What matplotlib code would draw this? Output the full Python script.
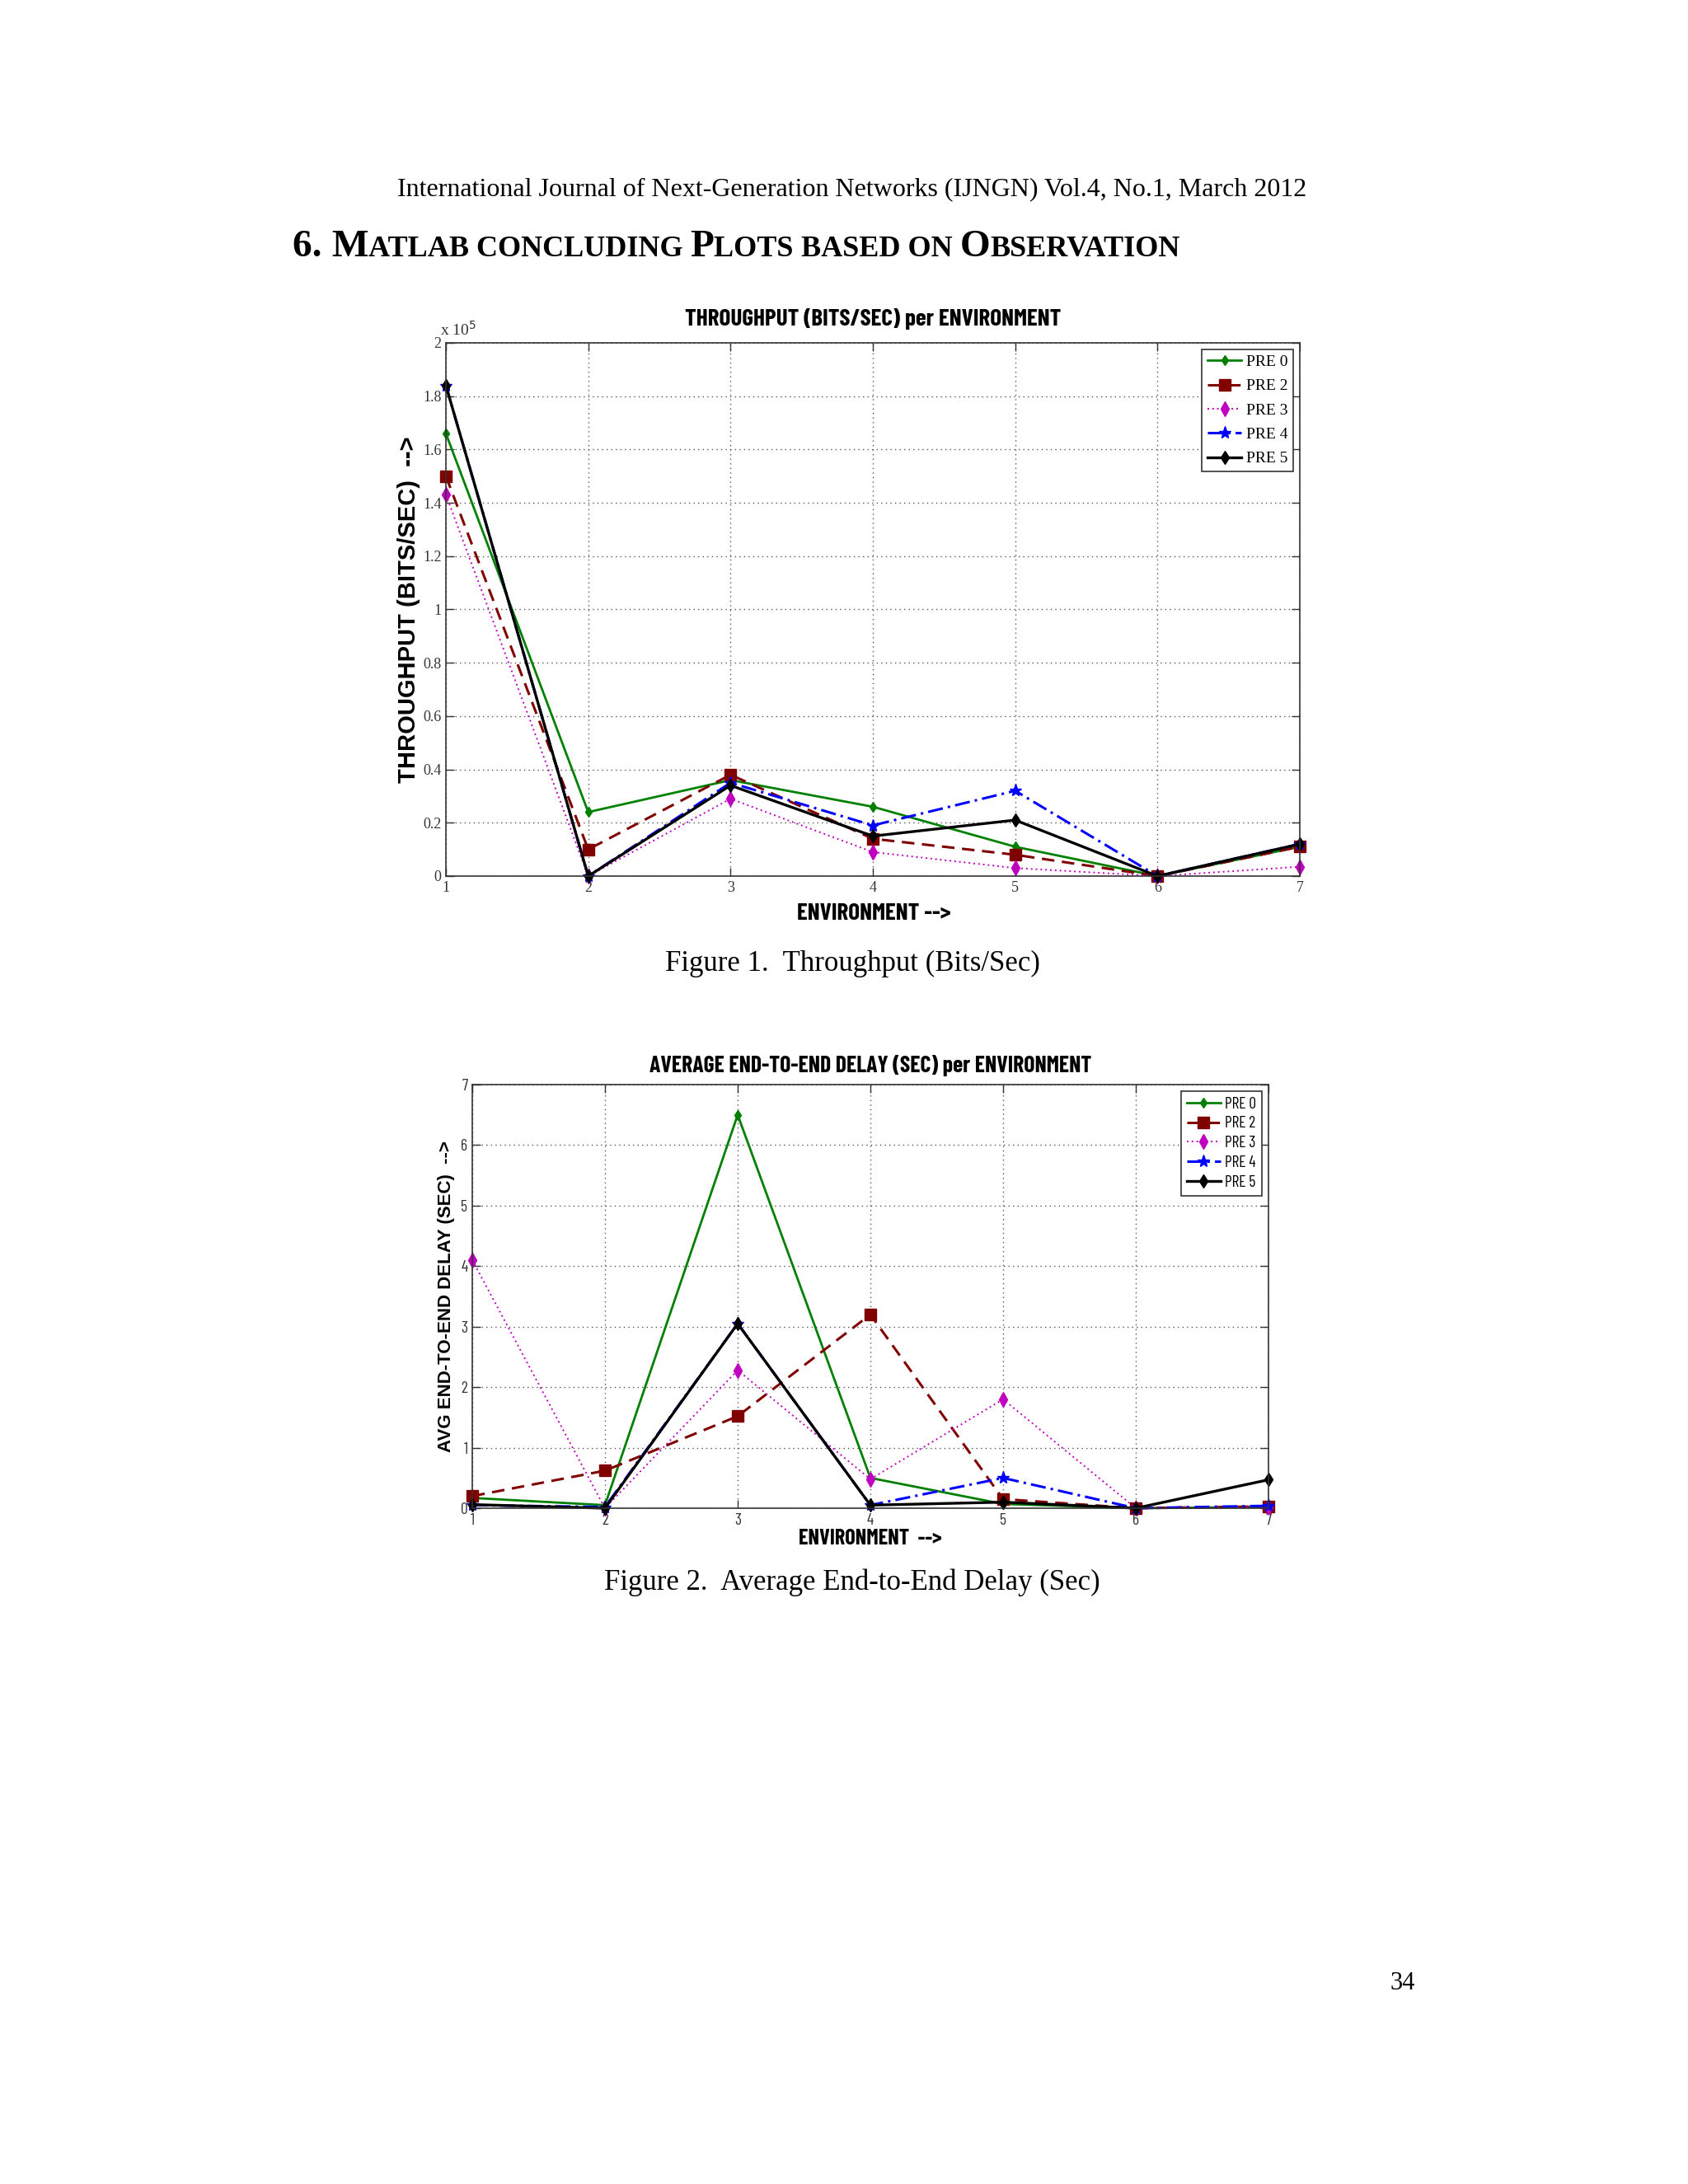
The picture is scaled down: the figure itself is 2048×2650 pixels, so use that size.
import matplotlib
matplotlib.use("Agg")
import matplotlib.pyplot as plt
from matplotlib.ticker import FuncFormatter, MultipleLocator

# ---- data ----
env = [1, 2, 3, 4, 5, 6, 7]
series_names = ["PRE 0", "PRE 2", "PRE 3", "PRE 4", "PRE 5"]

# throughput, in units of 1e5 bits/sec
thr_pre0 = [1.66, 0.24, 0.36, 0.26, 0.11, 0.00, 0.11]
thr_pre2 = [1.50, 0.10, 0.38, 0.14, 0.08, 0.00, 0.11]
thr_pre3 = [1.43, 0.00, 0.29, 0.09, 0.03, 0.00, 0.035]
thr_pre4 = [1.84, 0.00, 0.35, 0.19, 0.32, 0.00, 0.12]
thr_pre5 = [1.84, 0.00, 0.34, 0.15, 0.21, 0.00, 0.12]

# average end-to-end delay (sec)
dly_pre0 = [0.17, 0.05, 6.50, 0.50, 0.07, 0.00, 0.02]
dly_pre2 = [0.20, 0.62, 1.52, 3.20, 0.15, 0.00, 0.03]
dly_pre3 = [4.10, 0.00, 2.28, 0.48, 1.80, 0.00, 0.02]
dly_pre4 = [0.05, 0.02, 3.05, 0.05, 0.50, 0.00, 0.04]
dly_pre5 = [0.06, 0.00, 3.05, 0.05, 0.10, 0.00, 0.47]

thr_values = [thr_pre0, thr_pre2, thr_pre3, thr_pre4, thr_pre5]
dly_values = [dly_pre0, dly_pre2, dly_pre3, dly_pre4, dly_pre5]

# MATLAB-ish line styles
colors = ["#008000", "#800000", "#C000C0", "#0000FF", "#000000"]
lstyles = ["-", (0, (5, 3)), (0, (1, 2)), (0, (6, 2, 1, 2)), "-"]
markers = ["d", "s", "d", "*", "d"]
msizes = [6, 10, 9, 11, 8]
lwidths = [2.0, 2.2, 1.4, 2.2, 2.4]

SERIF = ["Liberation Serif", "DejaVu Serif"]
NARROW = ["Barlow Condensed", "Liberation Sans", "DejaVu Sans"]
SANS = ["Liberation Sans", "DejaVu Sans"]

W, H = 2048, 2650
fig = plt.figure(figsize=(W / 100, H / 100), dpi=100)
fig.patch.set_facecolor("white")


def fx(px):
    return px / W


def fy(py):
    return 1 - py / H


def draw_chart(ax, values, ymax, tick_font, tick_size, leg_font, leg_size, lspace):
    for vals, name, c, ls, mk, ms, lw in zip(values, series_names, colors, lstyles,
                                            markers, msizes, lwidths):
        ax.plot(env, vals, color=c, linestyle=ls, marker=mk, markersize=ms,
                markerfacecolor=c, markeredgecolor=c, linewidth=lw, label=name,
                clip_on=False)
    ax.set_xlim(1, 7)
    ax.set_ylim(0, ymax)
    ax.grid(True, linestyle=(0, (1, 3)), color="#555555", linewidth=1.0)
    ax.tick_params(direction="in", length=7, width=1, top=True, right=True,
                   labelsize=tick_size, pad=4, colors="#333333")
    for lab in ax.get_xticklabels() + ax.get_yticklabels():
        lab.set_family(tick_font)
    for s in ax.spines.values():
        s.set_color("#333333")
        s.set_linewidth(1.2)
    leg = ax.legend(loc="upper right", prop={"family": leg_font, "size": leg_size},
                    fancybox=False, framealpha=1, edgecolor="#333333",
                    handlelength=2.1, handletextpad=0.3, labelspacing=lspace,
                    borderpad=0.35, borderaxespad=0.4)
    leg.get_frame().set_linewidth(1.2)


# ---- chart 1: throughput ----
ax1 = fig.add_axes([fx(541), fy(1063), fx(1577) - fx(541), fy(416) - fy(1063)])
draw_chart(ax1, thr_values, 2.0, SERIF, 13, SERIF, 14, 0.6)
ax1.yaxis.set_major_locator(MultipleLocator(0.2))
ax1.yaxis.set_major_formatter(FuncFormatter(lambda v, p: "%g" % round(v, 2)))
ax1.text(-0.007, 1.008, r"x 10$^5$", transform=ax1.transAxes, family=SERIF,
         fontsize=14, ha="left", va="bottom", color="#333333")
fig.text(fx(1059), fy(387), "THROUGHPUT (BITS/SEC) per ENVIRONMENT", family=NARROW,
         fontsize=21, fontweight="bold", ha="center", va="center")
fig.text(fx(1060), fy(1109), "ENVIRONMENT -->", family=NARROW, fontsize=21,
         fontweight="bold", ha="center", va="center")
fig.text(fx(496), fy(740), "THROUGHPUT (BITS/SEC)  -->", family=SANS, fontsize=21,
         fontweight="bold", rotation=90, ha="center", va="center")
fig.text(fx(1034), fy(1169), "Figure 1.  Throughput (Bits/Sec)", family=SERIF,
         fontsize=25, ha="center", va="center")

# ---- chart 2: delay ----
ax2 = fig.add_axes([fx(573), fy(1830), fx(1539) - fx(573), fy(1316) - fy(1830)])
draw_chart(ax2, dly_values, 7, NARROW, 14, NARROW, 14, 0.3)
ax2.yaxis.set_major_locator(MultipleLocator(1))
fig.text(fx(1056), fy(1293), "AVERAGE END-TO-END DELAY (SEC) per ENVIRONMENT",
         family=NARROW, fontsize=20, fontweight="bold", ha="center", va="center")
fig.text(fx(1056), fy(1867), "ENVIRONMENT  -->", family=NARROW, fontsize=19,
         fontweight="bold", ha="center", va="center")
fig.text(fx(542), fy(1573), "AVG END-TO-END DELAY (SEC)  -->", family=SANS,
         fontsize=16, fontweight="bold", rotation=90, ha="center", va="center")
fig.text(fx(1034), fy(1920), "Figure 2.  Average End-to-End Delay (Sec)", family=SERIF,
         fontsize=25, ha="center", va="center")

# ---- page text ----
fig.text(fx(1034), fy(230),
         "International Journal of Next-Generation Networks (IJNGN) Vol.4, No.1, March 2012",
         family=SERIF, fontsize=23, ha="center", va="center")
fig.text(fx(1702), fy(2406), "34", family=SERIF, fontsize=22, ha="center", va="center")

# small-caps section heading, built piece by piece
pieces = [("6. ", 34), ("M", 34), ("ATLAB ", 26), ("CONCLUDING ", 26), ("P", 34),
          ("LOTS ", 26), ("BASED ON ", 26), ("O", 34), ("BSERVATION", 26)]
renderer = fig.canvas.get_renderer()
x = 355
for txt, size in pieces:
    t = fig.text(fx(x), fy(311), txt, family=SERIF, fontsize=size, fontweight="bold",
                 ha="left", va="baseline")
    bb = t.get_window_extent(renderer)
    x += bb.width

fig.savefig("out.png", dpi=100, facecolor="white")
